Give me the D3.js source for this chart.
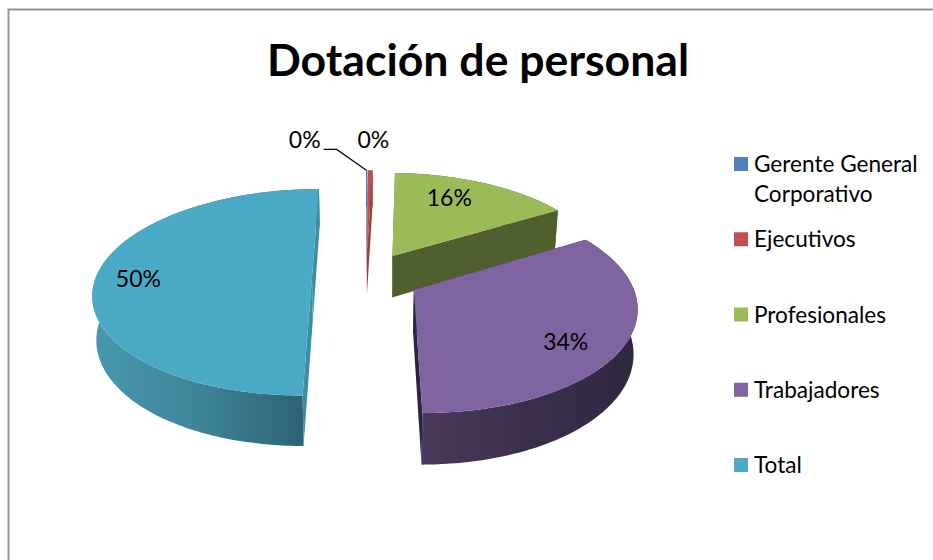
<!DOCTYPE html>
<html lang="es">
<head>
<meta charset="utf-8">
<script src="https://cdn.jsdelivr.net/npm/d3@7/dist/d3.min.js"></script>
<style>
html,body{margin:0;padding:0;background:#fff;overflow:hidden}
svg{display:block}
text{font-family:Lato,"Open Sans",sans-serif;fill:#000}
</style>
</head>
<body>
<svg id="c" width="933" height="560"></svg>
<script>
const chartTitle = "Dotación de personal";
const categories = ["Gerente General Corporativo","Ejecutivos","Profesionales","Trabajadores","Total"];
const values = [1, 4, 159, 336, 500];
const colors = ["#4f81bd","#c0504d","#9bbb59","#8064a2","#4aa9c4"];
const wallColors = ["#3f6797","#9a3f3c","#4f5f2d","#2c2340","#3c8ea6"];
const gradientStops = [null,null,null,["#4a3a5c","#3b2e4b","#2f2840"],["#4799b0","#3d8296","#2a5e6d"]];

const W = 933, H = 560;
const cx = 366, cy = 277, R = 216, tilt = 101, depth = 43, persp = 0.148, explode = 54;
const svg = d3.select("#c");
const defs = svg.append("defs");

// ground plane (X right, Y back) to screen
function project(X, Y, low) {
  const s = 1 / (1 + persp * Y / R);
  return [cx + X * s * (low ? 0.985 : 1), cy - tilt * (Y / R) * s + (low ? depth * s : 0)];
}
const line = d3.line();
const arcs = d3.pie().sort(null).value(d => d)(values);
const total = d3.sum(values);

function sliceGeom(a) {
  const mid = (a.startAngle + a.endAngle) / 2;
  const ox = explode * Math.sin(mid), oy = explode * Math.cos(mid);
  const at = (ang, f, low) => project(ox + f * R * Math.sin(ang), oy + f * R * Math.cos(ang), low);
  const n = Math.max(2, Math.ceil((a.endAngle - a.startAngle) * 60));
  const angs = d3.range(n + 1).map(i => a.startAngle + (a.endAngle - a.startAngle) * i / n);
  return {mid, at, angs};
}

// border: only the top and left edges fall inside the picture
svg.append("path")
  .attr("d", line([[W + 2, 9.5], [8.5, 9.5], [8.5, H + 2]]))
  .attr("fill", "none").attr("stroke", "#969696").attr("stroke-width", 2);

svg.append("text").attr("x", 478).attr("y", 76).attr("text-anchor", "middle")
  .style("font-size", "44.6px").style("font-weight", 700).text(chartTitle);

// painter's order: back slices first
const order = [0, 1, 2, 4, 3];
const pieG = svg.append("g");
order.forEach(i => {
  const a = arcs[i], g = sliceGeom(a), sg = pieG.append("g");
  let wallFill = wallColors[i];
  if (gradientStops[i]) {
    const id = "wall" + i;
    const lg = defs.append("linearGradient").attr("id", id);
    gradientStops[i].forEach((c, k) => lg.append("stop").attr("offset", k / (gradientStops[i].length - 1)).attr("stop-color", c));
    wallFill = `url(#${id})`;
  }
  // rim
  const rim = g.angs.map(t => g.at(t, 1, false)).concat(g.angs.slice().reverse().map(t => g.at(t, 1, true)));
  sg.append("path").attr("fill", wallFill).attr("d", line(rim) + "Z");
  // cut faces
  [a.startAngle, a.endAngle].forEach(ang => {
    sg.append("path").attr("fill", wallColors[i]).attr("d", line([
      g.at(ang, 0, false), g.at(ang, 1, false), g.at(ang, 1, true), g.at(ang, 0, true)
    ]) + "Z");
  });
  // top
  const top = [g.at(a.startAngle, 0, false)].concat(g.angs.map(t => g.at(t, 1, false)));
  sg.append("path").attr("fill", colors[i]).attr("d", line(top) + "Z");
});

// labels
const pct = d3.format(".0%");
const labelRadius = [1, 1, 0.8, 0.8, 0.79];
const labelShift = [[-62, -30], [3, -30], [-18, 2], [-14, 8], [-3, 2]];
arcs.forEach((a, i) => {
  const g = sliceGeom(a);
  const p = g.at(g.mid, labelRadius[i], false);
  svg.append("text").attr("x", p[0] + labelShift[i][0]).attr("y", p[1] + labelShift[i][1] + 8)
    .attr("text-anchor", "middle").style("font-size", "23px").text(pct(values[i] / total));
});
// leader from the first label to its sliver
{
  const g = sliceGeom(arcs[0]);
  const end = g.at(g.mid, 1, false);
  svg.append("path").attr("fill", "none").attr("stroke", "#000").attr("stroke-width", 1.2)
    .attr("d", line([[end[0] - 43, end[1] - 21], [end[0] - 30, end[1] - 21], end]));
}

// legend
const legendY = d3.scaleLinear().domain([0, 4]).range([157, 458]);
const leg = svg.append("g");
categories.forEach((name, i) => {
  const y = legendY(i);
  leg.append("rect").attr("x", 734).attr("y", y).attr("width", 14).attr("height", 14).attr("fill", colors[i]);
  const words = name.split(" ");
  const lines = words.length > 2 ? [words.slice(0, 2).join(" "), words.slice(2).join(" ")] : [name];
  const t = leg.append("text").attr("x", 754).attr("y", y + 15).style("font-size", "22.6px");
  lines.forEach((l, k) => t.append("tspan").attr("x", 754).attr("dy", k ? 30 : 0).text(l));
});
</script>
</body>
</html>
